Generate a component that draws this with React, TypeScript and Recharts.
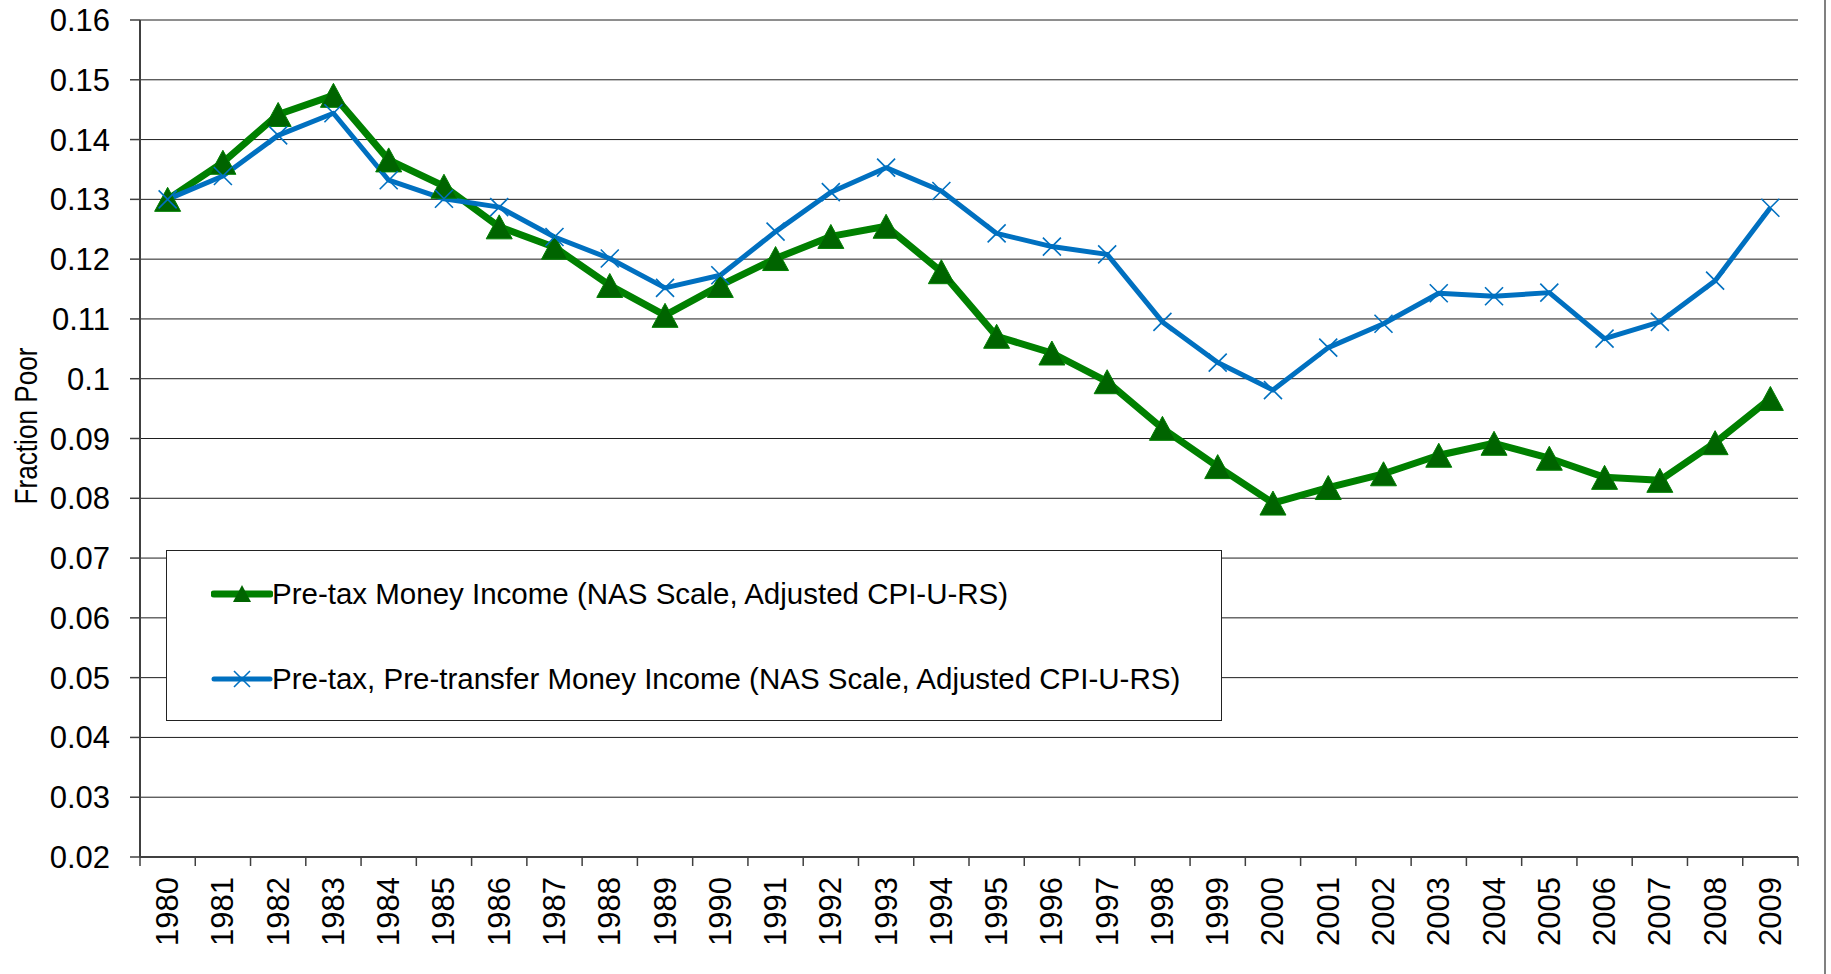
import React from 'react';
import { LineChart, Line, XAxis, YAxis, CartesianGrid, Label } from 'recharts';

// Fraction poor by year
const years = [
  '1980', '1981', '1982', '1983', '1984', '1985', '1986', '1987', '1988', '1989',
  '1990', '1991', '1992', '1993', '1994', '1995', '1996', '1997', '1998', '1999',
  '2000', '2001', '2002', '2003', '2004', '2005', '2006', '2007', '2008', '2009',
];

const preTax = [
  0.1300, 0.1362, 0.1442, 0.1474, 0.1366, 0.1322, 0.1254, 0.1220, 0.1156, 0.1106,
  0.1156, 0.1201, 0.1238, 0.1255, 0.1179, 0.1071, 0.1043, 0.0995, 0.0917, 0.0853,
  0.0792, 0.0818, 0.0841, 0.0872, 0.0892, 0.0867, 0.0835, 0.0830, 0.0893, 0.0967,
];

const preTransfer = [
  0.1300, 0.1339, 0.1407, 0.1444, 0.1332, 0.1301, 0.1287, 0.1237, 0.1201, 0.1152,
  0.1173, 0.1246, 0.1312, 0.1353, 0.1314, 0.1243, 0.1221, 0.1208, 0.1095, 0.1027,
  0.0981, 0.1052, 0.1092, 0.1143, 0.1138, 0.1144, 0.1067, 0.1095, 0.1164, 0.1286,
];

const yTicks = [0.02, 0.03, 0.04, 0.05, 0.06, 0.07, 0.08, 0.09, 0.1, 0.11, 0.12, 0.13, 0.14, 0.15, 0.16];

const seriesNames = [
  'Pre-tax Money Income (NAS Scale, Adjusted CPI-U-RS)',
  'Pre-tax, Pre-transfer Money Income (NAS Scale, Adjusted CPI-U-RS)',
];

const FONT = '"Liberation Sans", Arial, sans-serif';
const GREEN = '#008000';
const DARK_GREEN = '#006400';
const BLUE = '#0070c0';

const WIDTH = 1831;
const HEIGHT = 974;
const PLOT_LEFT = 140;
const PLOT_RIGHT = 33;
const PLOT_WIDTH = WIDTH - PLOT_LEFT - PLOT_RIGHT;
const BAND = PLOT_WIDTH / years.length;

const data = years.map((year, i) => ({
  year,
  preTax: preTax[i],
  preTransfer: preTransfer[i],
}));

// filled triangle marker
const TriangleDot = (props: any) => {
  const { cx, cy, index } = props;
  if (cx == null || cy == null) return null;
  return (
    <path
      key={`tri-${index}`}
      d={`M${cx},${cy - 12} L${cx - 13},${cy + 12} L${cx + 13},${cy + 12} Z`}
      fill={DARK_GREEN}
      stroke={GREEN}
      strokeWidth={1}
    />
  );
};

// thin x marker
const CrossDot = (props: any) => {
  const { cx, cy, index } = props;
  if (cx == null || cy == null) return null;
  const s = 9;
  return (
    <path
      key={`x-${index}`}
      d={`M${cx - s},${cy - s} L${cx + s},${cy + s} M${cx - s},${cy + s} L${cx + s},${cy - s}`}
      stroke={BLUE}
      strokeWidth={1.6}
      fill="none"
    />
  );
};

// year label rotated, tick marks sit between categories
const YearTick = (props: any) => {
  const { x, y, payload, index } = props;
  const ty = y + 20;
  return (
    <g>
      <line x1={x - BAND / 2} y1={y} x2={x - BAND / 2} y2={y + 9} stroke="#404040" strokeWidth={1.5} />
      {index === years.length - 1 && (
        <line x1={x + BAND / 2} y1={y} x2={x + BAND / 2} y2={y + 9} stroke="#404040" strokeWidth={1.5} />
      )}
      <text
        x={x}
        y={ty}
        transform={`rotate(-90 ${x} ${ty})`}
        textAnchor="end"
        dominantBaseline="central"
        fontSize={31}
        fontFamily={FONT}
        fill="#000"
      >
        {payload.value}
      </text>
    </g>
  );
};

const yTitle = () => (
  <text
    x={26}
    y={426}
    transform="rotate(-90 26 426)"
    textAnchor="middle"
    dominantBaseline="central"
    fontSize={31}
    fontFamily={FONT}
    fill="#000"
    textLength={157}
    lengthAdjust="spacingAndGlyphs"
  >
    Fraction Poor
  </text>
);

const LegendBox = () => (
  <div
    style={{
      position: 'absolute',
      left: 166,
      top: 550,
      width: 1056,
      height: 171,
      boxSizing: 'border-box',
      border: '1.5px solid #222',
      background: '#fff',
      fontFamily: FONT,
    }}
  >
    {seriesNames.map((name, i) => (
      <div
        key={name}
        style={{
          position: 'absolute',
          left: 44,
          top: (i === 0 ? 43 : 128) - 20,
          height: 40,
          display: 'flex',
          alignItems: 'center',
          whiteSpace: 'nowrap',
        }}
      >
        <svg width={62} height={40}>
          <line
            x1={3}
            y1={20}
            x2={59}
            y2={20}
            stroke={i === 0 ? GREEN : BLUE}
            strokeWidth={i === 0 ? 7 : 5}
            strokeLinecap="round"
          />
          {i === 0 ? (
            <path d="M31,11 L22,28 L40,28 Z" fill={DARK_GREEN} />
          ) : (
            <path d="M23,12 L39,28 M23,28 L39,12" stroke={BLUE} strokeWidth={1.6} />
          )}
        </svg>
        <span style={{ fontSize: 29.5, lineHeight: '40px', color: '#000', marginLeft: -1 }}>{name}</span>
      </div>
    ))}
  </div>
);

export default function App() {
  return (
    <div style={{ position: 'absolute', left: 0, top: 0, width: WIDTH, height: HEIGHT, background: '#fff' }}>
      <LineChart
        width={WIDTH}
        height={HEIGHT}
        data={data}
        margin={{ top: 20, right: PLOT_RIGHT, bottom: 0, left: 0 }}
      >
        <CartesianGrid horizontal vertical={false} stroke="#1e1e1e" strokeWidth={1} />
        <XAxis
          dataKey="year"
          interval={0}
          height={117}
          tickLine={false}
          tickSize={0}
          tickMargin={0}
          padding={{ left: BAND / 2, right: BAND / 2 }}
          axisLine={{ stroke: '#404040', strokeWidth: 2 }}
          tick={<YearTick />}
        />
        <XAxis
          xAxisId="top"
          dataKey="year"
          orientation="top"
          height={0}
          tick={false}
          tickLine={false}
          axisLine={{ stroke: '#bdbdbd', strokeWidth: 2 }}
        />
        <YAxis
          type="number"
          width={PLOT_LEFT}
          domain={[0.02, 0.16]}
          ticks={yTicks}
          interval={0}
          allowDataOverflow
          tickSize={10}
          tickMargin={20}
          tickFormatter={(v: number) => String(Number(v.toFixed(2)))}
          tick={{ fill: '#000', fontSize: 31, fontFamily: FONT }}
          tickLine={{ stroke: '#404040', strokeWidth: 1.5 }}
          axisLine={{ stroke: '#404040', strokeWidth: 2 }}
          label={<Label content={yTitle} />}
        />
        <YAxis
          yAxisId="right"
          orientation="right"
          width={0}
          domain={[0.02, 0.16]}
          tick={false}
          tickLine={false}
          axisLine={{ stroke: '#8c8c8c', strokeWidth: 2 }}
        />
        <Line
          type="linear"
          dataKey="preTax"
          name={seriesNames[0]}
          stroke={GREEN}
          strokeWidth={7}
          strokeLinejoin="round"
          dot={(p: any) => <TriangleDot key={`t${p.index}`} {...p} />}
          activeDot={false}
          isAnimationActive={false}
        />
        <Line
          type="linear"
          dataKey="preTransfer"
          name={seriesNames[1]}
          stroke={BLUE}
          strokeWidth={5}
          strokeLinejoin="round"
          dot={(p: any) => <CrossDot key={`c${p.index}`} {...p} />}
          activeDot={false}
          isAnimationActive={false}
        />
      </LineChart>
      <LegendBox />
      <div style={{ position: 'absolute', left: 1824, top: 0, width: 2, height: HEIGHT, background: '#808080' }} />
    </div>
  );
}
